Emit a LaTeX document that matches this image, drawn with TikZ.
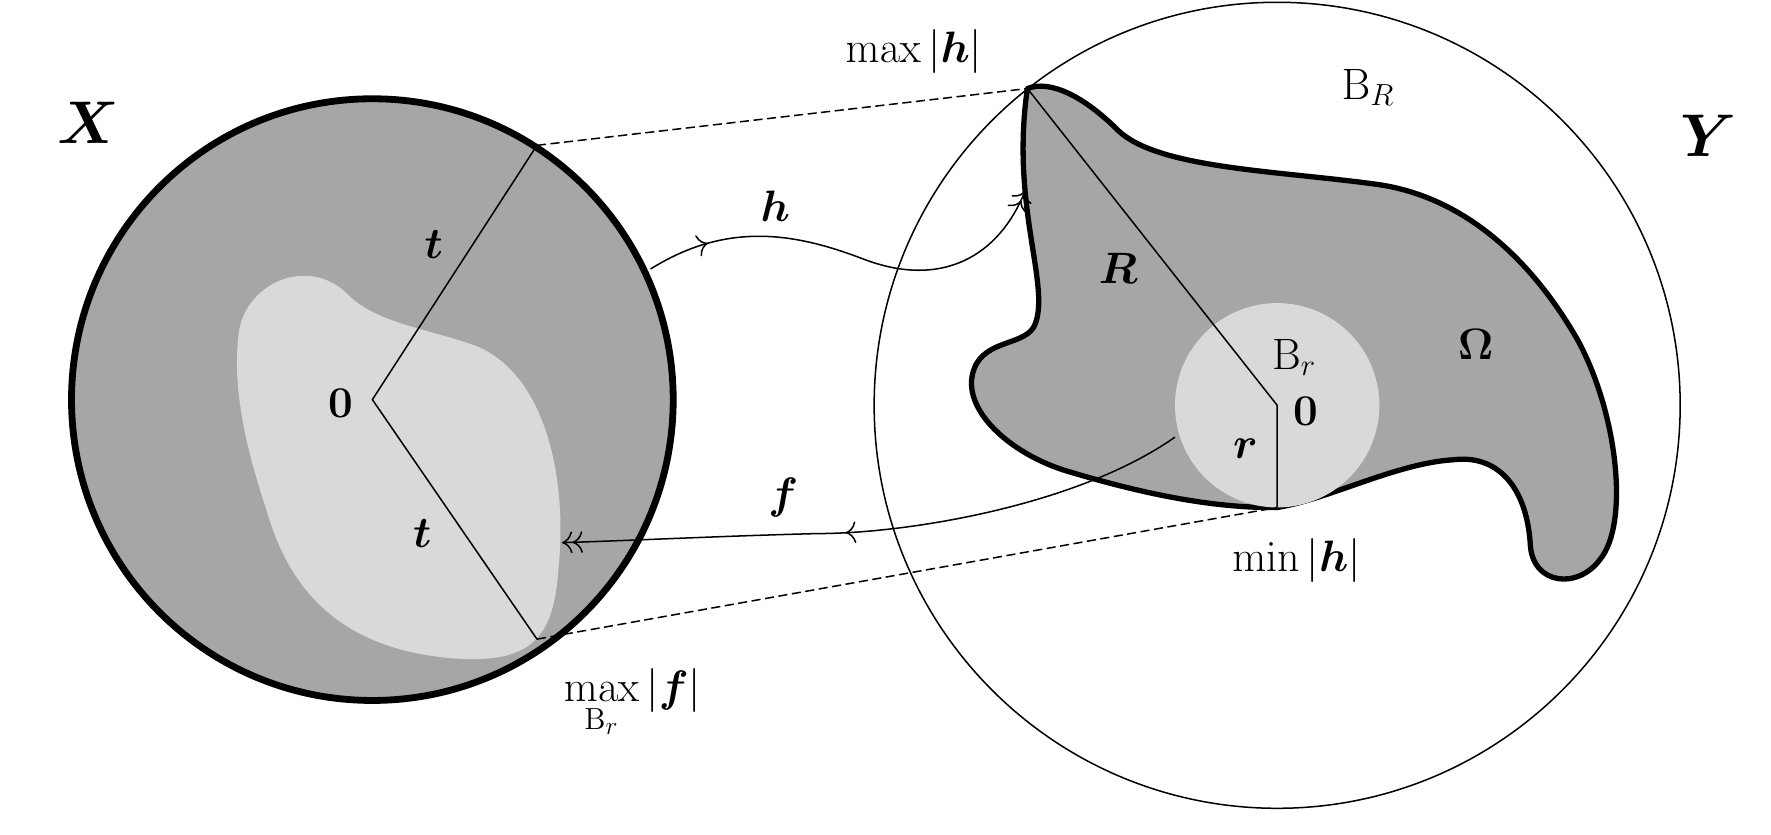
\documentclass[tikz,border=0pt]{standalone}
\usepackage{amsmath}
\usepackage{amssymb}
\usepackage{tikz}
\usetikzlibrary{decorations.markings,arrows.meta}
\definecolor{darkfill}{RGB}{166,166,166}
\definecolor{lightfill}{RGB}{217,217,217}
\tikzset{
  lbl/.style={inner sep=0.75pt,font=\huge,scale=1.4},
  biglbl/.style={inner sep=0.75pt,font=\Huge,scale=1.6},
  guide/.style={line width=1pt,dash pattern=on 6pt off 3pt},
  midarrow/.style={postaction={decorate},decoration={markings,mark=at position #1 with {\arrow{To[scale=1.8]}}}}
}

\begin{document}
\begin{tikzpicture}[x=0.75pt,y=0.75pt,yscale=-1,xscale=1,line join=round]
\useasboundingbox (0,0) rectangle (1560,735);

%Shape: Ball X
\begin{scope}
\clip (328,352) circle (265);
\fill[darkfill] (328,352) circle (265);
\fill[lightfill] (210,295) .. controls (215,250) and (270,225) .. (305,258) .. controls (330,285) and (380,290) .. (420,305) .. controls (480,330) and (500,420) .. (492,500) .. controls (488,560) and (470,585) .. (400,580) .. controls (300,572) and (255,520) .. (235,450) .. controls (215,390) and (205,340) .. (210,295) -- cycle;
\end{scope}
\draw[line width=4.5pt] (328,352) circle (265);

%Shape: Ball B_R
\draw[line width=1pt] (1125,357) circle (355);

%Shape: Omega
\draw[fill=darkfill,line width=3.5pt] (905,78) .. controls (925,70) and (955,85) .. (985,115) .. controls (1020,148) and (1120,150) .. (1210,162) .. controls (1290,172) and (1350,230) .. (1390,300) .. controls (1425,365) and (1435,460) .. (1410,492) .. controls (1390,520) and (1350,515) .. (1348,480) .. controls (1345,430) and (1320,400) .. (1280,405) .. controls (1230,408) and (1170,440) .. (1125,447) .. controls (1060,448) and (990,430) .. (940,415) .. controls (890,400) and (845,360) .. (858,325) .. controls (868,298) and (905,305) .. (912,285) .. controls (925,250) and (890,180) .. (905,78) -- cycle;

%Shape: Ball B_r
\fill[lightfill] (1125,357) circle (90);

% Points
\coordinate (o1) at (328,352);
\coordinate (p1) at (473,128);
\coordinate (p2) at (473,563);
\coordinate (o2) at (1125,357);
\coordinate (q1) at (905,78);
\coordinate (q2) at (1125,447);

%Straight Lines
\draw[line width=1pt] (p1) -- (o1) -- (p2);
\draw[line width=1pt] (q1) -- (o2) -- (q2);
\draw[guide] (p1) -- (q1);
\draw[guide] (p2) -- (q2);

%Curves h and f
\draw[line width=1pt,-{To[scale=1.8]To[scale=1.8]},midarrow=0.15] (573,237) .. controls (640,195) and (700,205) .. (760,228) .. controls (830,255) and (880,225) .. (903,168);
\draw[line width=1pt,-{To[scale=1.8]To[scale=1.8]},midarrow=0.55] (1035,385) .. controls (950,445) and (800,470) .. (720,470) .. controls (640,472) and (560,476) .. (495,478);

% Text Node
\node[biglbl] (labX) at (78,108) {$\boldsymbol{X}$};
\node[biglbl] (labY) at (1505,120) {$\boldsymbol{Y}$};
\node[lbl] (lab0a) at (300,355) {$\mathbf{0}$};
\node[lbl] (labt1) at (382,215) {$\boldsymbol{t}$};
\node[lbl] (labt2) at (372,470) {$\boldsymbol{t}$};
\node[lbl] (labh) at (683,182) {$\boldsymbol{h}$};
\node[lbl] (labf) at (690,438) {$\boldsymbol{f}$};
\node[lbl] (labmaxh) at (805,45) {$\max|\boldsymbol{h}|$};
\node[lbl] (labBR) at (1205,77) {$\mathrm{B}_R$};
\node[lbl] (labR) at (985,236) {$\boldsymbol{R}$};
\node[lbl] (labBr) at (1140,315) {$\mathrm{B}_r$};
\node[lbl] (lab0b) at (1150,362) {$\mathbf{0}$};
\node[lbl] (labr) at (1097,395) {$\boldsymbol{r}$};
\node[lbl] (labOm) at (1300,303) {$\boldsymbol{\Omega}$};
\node[lbl] (labminh) at (1142,494) {$\min|\boldsymbol{h}|$};
\node[lbl] (labmaxf) at (557,620) {$\displaystyle\max_{\mathrm{B}_r}|\boldsymbol{f}|$};

\end{tikzpicture}
\end{document}
